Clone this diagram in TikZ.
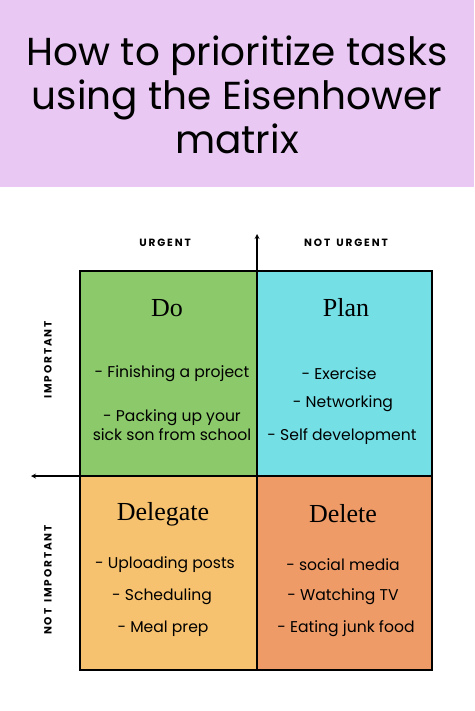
\documentclass[tikz,border=0pt]{standalone}
\usepackage{fontspec}
\setmainfont{Poppins}
\newfontfamily\headfont{Liberation Serif}
\definecolor{bandpink}{HTML}{E9C8F4}
\definecolor{dogreen}{HTML}{8CC96B}
\definecolor{plancyan}{HTML}{74E0E6}
\definecolor{delegorange}{HTML}{F7C26F}
\definecolor{delsalmon}{HTML}{EE9B68}
\tikzset{
  quad/.style={draw=black, line width=1.2pt},
  head/.style={font=\headfont\fontsize{26}{29}\selectfont},
  item/.style={font=\fontsize{15.6}{18.5}\selectfont, align=center},
  axis/.style={font=\bfseries\fontsize{10.5}{12}\selectfont\addfontfeature{LetterSpace=18}}
}
\begin{document}
\begin{tikzpicture}[x=1pt, y=-1pt, >=stealth]
    \useasboundingbox (0,0) rectangle (474,711);
    \fill[white] (0,0) rectangle (474,711);
    \fill[bandpink] (0,0) rectangle (474,187);
    \node[align=center, font=\fontsize{39}{44}\selectfont] (title) at (237,95)
        {How to prioritize tasks\\using the Eisenhower\\matrix};

    % quadrants
    \fill[dogreen] (80,271) rectangle (257,476);
    \fill[plancyan] (257,271) rectangle (432,476);
    \fill[delegorange] (80,476) rectangle (257,670);
    \fill[delsalmon] (257,476) rectangle (432,670);
    \draw[quad] (80,271) rectangle (432,670);
    \draw[quad] (80,476) -- (432,476);
    \coordinate (top) at (257,234);
    \coordinate (left) at (31,476);
    \draw[quad, ->] (257,670) -- (top);
    \draw[quad, ->] (80,476) -- (left);

    % axis labels
    \node[axis] (urg) at (165,243) {URGENT};
    \node[axis] (nurg) at (346,243) {NOT\hspace{6pt}URGENT};
    \node[axis, rotate=90] (imp) at (48,360) {IMPORTANT};
    \node[axis, rotate=90] (nimp) at (48,580) {NOT\hspace{6pt}IMPORTANT};

    % Do
    \node[head] (do) at (167,308) {Do};
    \node[item] (do1) at (172,374) {- Finishing a project};
    \node[item] (do2) at (172,425) {- Packing up your\\sick son from school};
    % Plan
    \node[head] (plan) at (346,308) {Plan};
    \node[item] (pl1) at (339,374) {- Exercise};
    \node[item] (pl2) at (343,404) {- Networking};
    \node[item] (pl3) at (342,437) {- Self development};
    % Delegate
    \node[head] (deleg) at (163,514) {Delegate};
    \node[item] (dg1) at (165,565) {- Uploading posts};
    \node[item] (dg2) at (162,597) {- Scheduling};
    \node[item] (dg3) at (163,629) {- Meal prep};
    % Delete
    \node[head] (del) at (343,514) {Delete};
    \node[item] (de1) at (343,565) {- social media};
    \node[item] (de2) at (343,597) {- Watching TV};
    \node[item] (de3) at (346,629) {- Eating junk food};
\end{tikzpicture}
\end{document}
